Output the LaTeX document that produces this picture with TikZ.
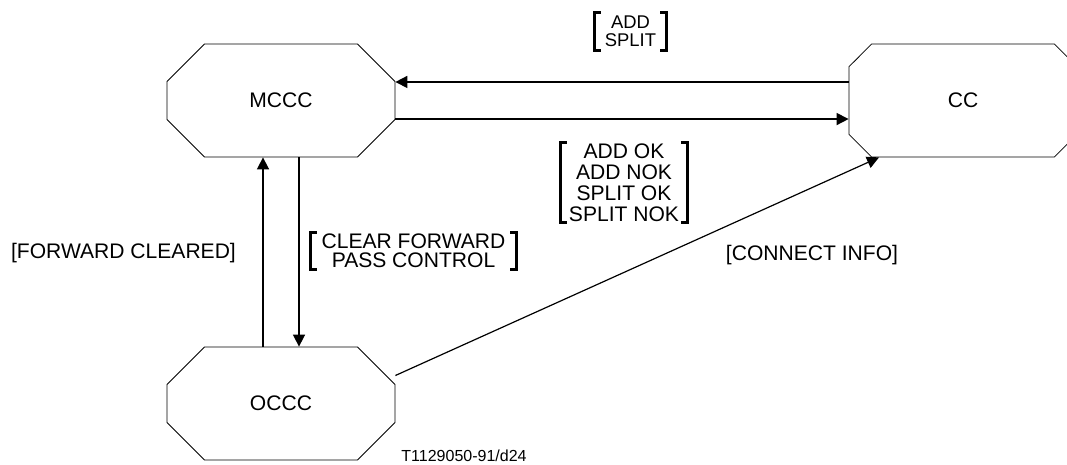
\documentclass[tikz,border=0pt]{standalone}
\usepackage{fontspec}
\setmainfont{Liberation Sans}
\usepackage{tikz}
\usetikzlibrary{arrows.meta}
\usetikzlibrary{shapes.misc}
\newcommand{\widthstate}{171pt}
\newcommand{\heightstate}{84.75pt}
\newcommand{\chamferstate}{22.5pt}
\newcommand{\ticklength}{4.5pt}
\tikzset{
    common/.style={font=\fontsize{15.8}{15.7}\selectfont, inner sep=0pt},
    state/.style={common, draw, line width=0.6pt, chamfered rectangle,
        chamfered rectangle angle=45, chamfered rectangle xsep=\chamferstate,
        chamfered rectangle ysep=\chamferstate,
        minimum width=\widthstate, minimum height=\heightstate},
    msg/.style={common, anchor=base},
    bracketed/.style 2 args={common, align=center, minimum width=#1, minimum height=#2,
        append after command={\pgfextra{
            \draw[line width=2.2pt]
                ([xshift=\ticklength]\tikzlastnode.north west) -- (\tikzlastnode.north west)
                -- (\tikzlastnode.south west) -- ([xshift=\ticklength]\tikzlastnode.south west)
                ([xshift=-\ticklength]\tikzlastnode.north east) -- (\tikzlastnode.north east)
                -- (\tikzlastnode.south east) -- ([xshift=-\ticklength]\tikzlastnode.south east);
        }}},
    sig/.style={line width=1.2pt, -{Triangle[length=9pt, width=9pt]}}
}
\begin{document}
\begin{tikzpicture}[x=0.75pt, y=-0.75pt]
    \useasboundingbox (0,0) rectangle (1067,464);
    \clip (0,0) rectangle (1067,464);
    \path
        (281,100.5) node[state] (mccc) {MCCC}
        ++(0,303) node[state] (occc) {OCCC}
        (963,100.5) node[state] (cc) {CC};

    \path
        (630.5,31.5) node[bracketed={53.25pt}{27.75pt}, font=\fontsize{13.8}{13.7}\selectfont] (addsplit) {ADD\\SPLIT}
        (624,182.5) node[bracketed={94.5pt}{59.25pt}] (addok) {ADD OK\\ADD NOK\\SPLIT OK\\SPLIT NOK}
        (413.5,251) node[bracketed={153.75pt}{27pt}, font=\fontsize{15.8}{14.55}\selectfont] (clearfwd) {CLEAR FORWARD\\PASS CONTROL}
        (123.5,258) node[msg] (fwdcleared) {[FORWARD CLEARED]}
        (812,260) node[msg] (connectinfo) {[CONNECT INFO]}
        (464,461) node[msg, font=\fontsize{12}{12}\selectfont] (figid) {T1129050-91/d24};

    \draw[sig] ([yshift=13.9pt]cc.west) -- ([yshift=13.9pt]mccc.east);
    \draw[sig] ([yshift=-13.9pt]mccc.east) -- ([yshift=-13.9pt]cc.west);
    \draw[sig] ([xshift=-13.5pt]occc.north) -- ([xshift=-13.5pt]mccc.south);
    \draw[sig] ([xshift=13.5pt]mccc.south) -- ([xshift=13.5pt]occc.north);
    \draw[sig, line width=0.9pt] ([yshift=21pt]occc.east) -- ([xshift=-63pt]cc.south);
\end{tikzpicture}
\end{document}
